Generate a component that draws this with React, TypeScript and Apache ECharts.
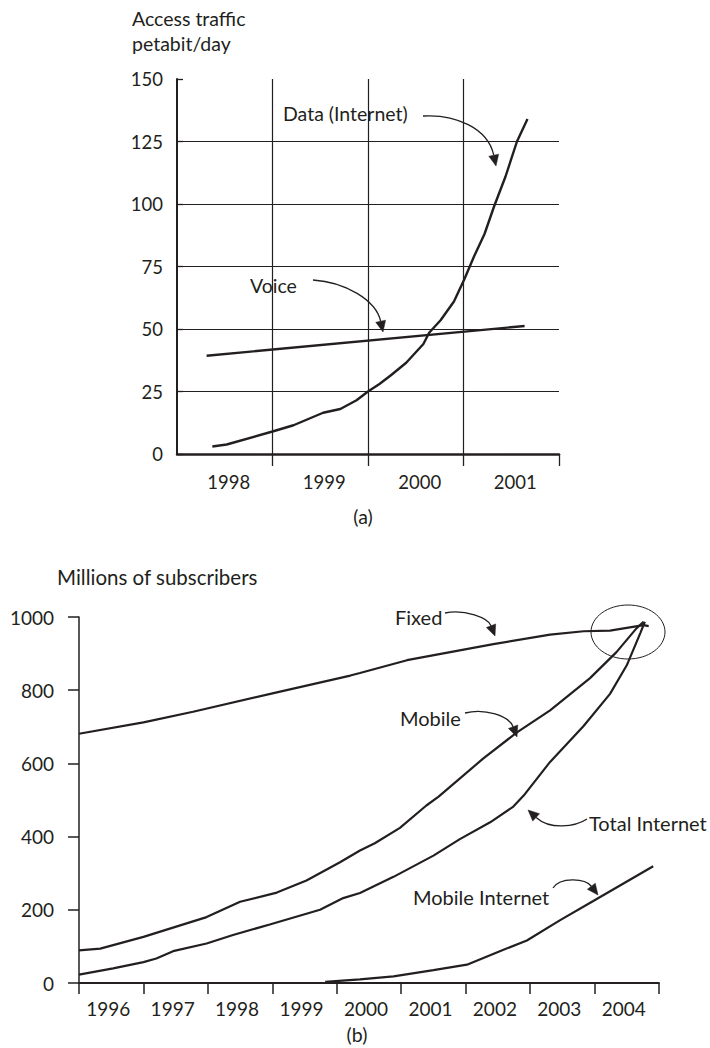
import React, { useEffect, useRef } from "react";
import * as echarts from "echarts";

// ---------- Panel (a): access traffic, petabit/day ----------
const yearsA = [1998, 1999, 2000, 2001];
const yGridA = [25, 50, 75, 100, 125];
const xGridA = [1999, 2000, 2001];
const dataInternetA: [number, number][] = [
  [1998.37, 3], [1998.52, 3.8], [1999.0, 9], [1999.22, 11.5], [1999.53, 16.5],
  [1999.71, 18], [1999.88, 21.5], [2000.0, 25], [2000.12, 28], [2000.24, 31.5],
  [2000.4, 36.5], [2000.58, 44], [2000.64, 48.5], [2000.76, 53.5], [2000.9, 61],
  [2001.01, 70], [2001.11, 79], [2001.22, 88], [2001.32, 99], [2001.44, 111],
  [2001.56, 125], [2001.67, 134],
];
const voiceA: [number, number][] = [[1998.31, 39.3], [2001.64, 51.2]];

// ---------- Panel (b): millions of subscribers ----------
const yearsB = [1996, 1997, 1998, 1999, 2000, 2001, 2002, 2003, 2004];
const fixedB: [number, number][] = [
  [1996.0, 681], [1997.0, 712], [1997.77, 741], [1999.07, 794], [2000.21, 840],
  [2000.36, 847], [2001.09, 882], [2001.76, 904], [2002.43, 926], [2003.31, 952],
  [2003.83, 961], [2004.24, 963], [2004.76, 978], [2004.84, 975],
];
const mobileB: [number, number][] = [
  [1996.0, 89], [1996.33, 94], [1997.0, 126], [1997.98, 180], [1998.5, 222],
  [1999.07, 247], [1999.53, 280], [2000.05, 330], [2000.36, 362], [2000.59, 382],
  [2000.98, 424], [2001.39, 485], [2001.58, 509], [2002.27, 613], [2002.79, 684],
  [2003.31, 745], [2003.93, 833], [2004.34, 904], [2004.65, 969], [2004.76, 987],
];
const totalInternetB: [number, number][] = [
  [1996.0, 23], [1996.53, 40], [1997.0, 57], [1997.2, 67], [1997.46, 87],
  [1997.98, 108], [1998.39, 131], [1998.96, 160], [1999.74, 200], [2000.1, 232],
  [2000.36, 246], [2000.88, 290], [2001.5, 348], [2001.91, 393], [2002.38, 439],
  [2002.74, 482], [2002.9, 512], [2003.31, 604], [2003.83, 702], [2004.24, 790],
  [2004.5, 868], [2004.71, 956], [2004.78, 987],
];
const mobileInternetB: [number, number][] = [
  [1999.82, 3], [2000.36, 10], [2000.88, 18], [2001.5, 35], [2002.02, 50],
  [2002.53, 87], [2002.95, 116], [2003.46, 171], [2003.98, 224], [2004.91, 319],
];

const INK = "#231f20";
const FONT = "Lato, 'Open Sans', sans-serif";

function arrow(x0: number, y0: number, c1x: number, c1y: number, c2x: number, c2y: number, tx: number, ty: number) {
  const head = 11;
  const hw = 5;
  const dx = tx - c2x;
  const dy = ty - c2y;
  const len = Math.sqrt(dx * dx + dy * dy);
  const ux = dx / len;
  const uy = dy / len;
  const bx = tx - ux * head;
  const by = ty - uy * head;
  const nx = -uy;
  const ny = ux;
  return [
    {
      type: "bezierCurve",
      silent: true,
      shape: { x1: x0, y1: y0, cpx1: c1x, cpy1: c1y, cpx2: c2x, cpy2: c2y, x2: bx, y2: by },
      style: { stroke: INK, lineWidth: 1.3, fill: "none" },
    },
    {
      type: "polygon",
      silent: true,
      shape: { points: [[tx, ty], [bx + nx * hw, by + ny * hw], [bx - nx * hw, by - ny * hw]] },
      style: { fill: INK, stroke: INK, lineWidth: 0.5 },
    },
  ];
}

function label(text: string, x: number, y: number, size: number, align = "left") {
  return {
    type: "text",
    silent: true,
    x,
    y,
    style: {
      text,
      fill: INK,
      font: `${size}px ${FONT}`,
      textAlign: align,
      textVerticalAlign: "middle",
    },
  };
}

function lineSeries(name: string, data: [number, number][], idx: number, width: number, extra: any = {}) {
  return {
    name,
    type: "line",
    xAxisIndex: idx,
    yAxisIndex: idx,
    data,
    showSymbol: false,
    symbol: "none",
    smooth: false,
    lineStyle: { color: INK, width },
    itemStyle: { color: INK },
    z: 3,
    ...extra,
  };
}

export default function App() {
  const ref = useRef<HTMLDivElement>(null);

  useEffect(() => {
    if (!ref.current) return;
    const chart = echarts.init(ref.current, null, { renderer: "svg" });

    const option: any = {
      animation: false,
      backgroundColor: "#ffffff",
      textStyle: { fontFamily: FONT, color: INK },
      grid: [
        { left: 177, top: 79, width: 382, height: 375, containLabel: false },
        { left: 79, top: 617, width: 580, height: 366, containLabel: false },
      ],
      xAxis: [
        {
          gridIndex: 0,
          type: "value",
          min: 1998,
          max: 2002,
          interval: 1,
          axisLine: { show: true, onZero: false, lineStyle: { color: INK, width: 2.5 } },
          axisTick: { show: true, length: 12, customValues: [1999, 2000, 2001, 2002], lineStyle: { color: INK, width: 1.3 } },
          axisLabel: {
            customValues: yearsA.map((y) => y + 0.5),
            formatter: (v: number) => String(Math.floor(v)),
            color: INK,
            fontFamily: FONT,
            fontSize: 18.5,
            margin: 18,
            padding: [0, 0, 0, 8],
          },
          splitLine: { show: false },
        },
        {
          gridIndex: 1,
          type: "value",
          min: 1996,
          max: 2005,
          interval: 1,
          axisLine: { show: true, onZero: false, lineStyle: { color: INK, width: 1.8 } },
          axisTick: { show: true, length: 11, lineStyle: { color: INK, width: 1.5 } },
          axisLabel: {
            customValues: yearsB.map((y) => y + 0.5),
            formatter: (v: number) => String(Math.floor(v)),
            color: INK,
            fontFamily: FONT,
            fontSize: 19,
            margin: 16,
            padding: [0, 6, 0, 0],
          },
          splitLine: { show: false },
        },
      ],
      yAxis: [
        {
          gridIndex: 0,
          type: "value",
          min: 0,
          max: 150,
          interval: 25,
          axisLine: { show: true, onZero: false, lineStyle: { color: INK, width: 2 } },
          axisTick: { show: true, inside: true, length: 6, lineStyle: { color: INK, width: 1.3 } },
          axisLabel: { color: INK, fontFamily: FONT, fontSize: 18.5, margin: 14, formatter: (v: number) => String(v) },
          splitLine: { show: false },
        },
        {
          gridIndex: 1,
          type: "value",
          min: 0,
          max: 1000,
          interval: 200,
          axisLine: { show: true, onZero: false, lineStyle: { color: INK, width: 1.5 } },
          axisTick: { show: true, length: 11, lineStyle: { color: INK, width: 1.5 } },
          axisLabel: { color: INK, fontFamily: FONT, fontSize: 19, margin: 25, formatter: (v: number) => String(v) },
          splitLine: { show: false },
        },
      ],
      series: [
        lineSeries("Voice", voiceA, 0, 2.4, {
          markLine: {
            silent: true,
            symbol: ["none", "none"],
            label: { show: false },
            lineStyle: { color: INK, width: 1.2, type: "solid" },
            data: [
              ...yGridA.map((v) => ({ yAxis: v })),
              ...xGridA.map((v) => ({ xAxis: v })),
            ],
            z: 1,
          },
        }),
        lineSeries("Data (Internet)", dataInternetA, 0, 2.4),
        lineSeries("Fixed", fixedB, 1, 2.2),
        lineSeries("Mobile", mobileB, 1, 2.2),
        lineSeries("Total Internet", totalInternetB, 1, 2.2),
        lineSeries("Mobile Internet", mobileInternetB, 1, 2.2),
      ],
      graphic: [
        // panel (a)
        label("Access traffic", 132, 18, 19.5),
        label("petabit/day", 132, 43, 19.5),
        label("Data (Internet)", 283, 113, 19.5),
        ...arrow(423, 116, 455, 114, 488, 128, 496, 166),
        label("Voice", 250, 285, 19.5),
        ...arrow(313, 280, 345, 282, 376, 300, 383, 332),
        label("(a)", 363, 516, 19.5, "center"),
        // panel (b)
        label("Millions of subscribers", 57, 577, 20.5),
        label("Fixed", 395, 617, 20),
        ...arrow(445, 613, 465, 609, 488, 618, 495, 636),
        label("Mobile", 400, 718, 20),
        ...arrow(465, 713, 485, 708, 509, 716, 517, 737),
        label("Total Internet", 589, 823, 20),
        ...arrow(587, 819, 575, 827, 550, 830, 528, 810),
        label("Mobile Internet", 413, 897, 20),
        ...arrow(553, 888, 560, 877, 585, 878, 598, 895),
        {
          type: "ellipse",
          silent: true,
          shape: { cx: 628, cy: 632, rx: 37, ry: 27 },
          style: { fill: "none", stroke: INK, lineWidth: 1 },
        },
        label("(b)", 357, 1034, 19.5, "center"),
      ],
    };

    chart.setOption(option);
    return () => {
      chart.dispose();
    };
  }, []);

  return (
    <div
      ref={ref}
      style={{ position: "absolute", left: 0, top: 0, width: 710, height: 1048, background: "#fff" }}
    />
  );
}
